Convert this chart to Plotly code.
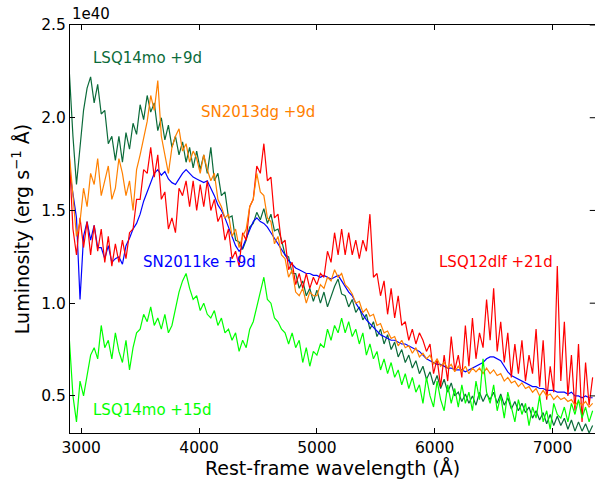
import numpy as np
import plotly.graph_objects as go

# wavelength grid (Angstrom), 30 A step
wavelength = np.arange(2900, 7341, 30)

# Luminosity values in units of 1e40 erg s^-1 A^-1
lsq14mo_9d = [
    2.24, 1.90, 1.64, 1.86, 2.04, 2.16, 2.22, 2.08, 2.18, 2.02,
    2.04, 1.86, 1.90, 1.77, 1.90, 1.76, 1.92, 1.83, 1.97, 1.91,
    2.07, 1.99, 2.12, 2.03, 2.08, 1.93, 2.00, 1.88, 1.96, 1.84,
    1.90, 1.80, 1.87, 1.76, 1.84, 1.73, 1.82, 1.72, 1.80, 1.70,
    1.84, 1.66, 1.70, 1.58, 1.60, 1.46, 1.47, 1.34, 1.33, 1.29,
    1.34, 1.41, 1.43, 1.49, 1.45, 1.51, 1.43, 1.48, 1.39, 1.40,
    1.34, 1.26, 1.25, 1.16, 1.16, 1.08, 1.12, 1.04, 1.08, 1.01,
    1.07, 1.00, 1.06, 0.98, 1.04, 1.09, 1.13, 1.05, 1.04, 0.98,
    1.02, 0.95, 0.98, 0.91, 0.94, 0.86, 0.90, 0.82, 0.86, 0.78,
    0.83, 0.75, 0.79, 0.71, 0.75, 0.68, 0.72, 0.65, 0.69, 0.62,
    0.66, 0.59, 0.63, 0.56, 0.61, 0.54, 0.59, 0.52, 0.57, 0.50,
    0.52, 0.47, 0.51, 0.46, 0.50, 0.45, 0.52, 0.47, 0.51, 0.48,
    0.52, 0.46, 0.51, 0.45, 0.49, 0.43, 0.47, 0.42, 0.46, 0.41,
    0.44, 0.38, 0.42, 0.37, 0.41, 0.35, 0.40, 0.34, 0.39, 0.34,
    0.38, 0.32, 0.37, 0.31, 0.36, 0.31, 0.35, 0.30, 0.34,
]

sn2011ke_9d = [
    1.72, 1.60, 1.46, 1.02, 1.36, 1.44, 1.34, 1.42, 1.30, 1.30,
    1.24, 1.31, 1.22, 1.24, 1.25, 1.21, 1.31, 1.35, 1.40, 1.43,
    1.48, 1.55, 1.60, 1.66, 1.70, 1.72, 1.69, 1.71, 1.67, 1.65,
    1.64, 1.67, 1.70, 1.72, 1.70, 1.68, 1.67, 1.66, 1.65, 1.66,
    1.62, 1.58, 1.53, 1.50, 1.46, 1.41, 1.37, 1.31, 1.28, 1.30,
    1.35, 1.40, 1.44, 1.46, 1.44, 1.43, 1.41, 1.38, 1.35, 1.32,
    1.29, 1.26, 1.23, 1.21, 1.19, 1.18, 1.17, 1.16, 1.16, 1.15,
    1.15, 1.14, 1.15, 1.14, 1.13, 1.14, 1.15, 1.12, 1.09, 1.06,
    1.04, 1.00, 0.97, 0.94, 0.91, 0.89, 0.87, 0.85, 0.83, 0.82,
    0.81, 0.80, 0.80, 0.79, 0.78, 0.78, 0.77, 0.76, 0.75, 0.74,
    0.72, 0.70, 0.69, 0.68, 0.67, 0.67, 0.66, 0.65, 0.65, 0.64,
    0.64, 0.64, 0.63, 0.64, 0.65, 0.66, 0.67, 0.68, 0.70, 0.71,
    0.71, 0.70, 0.69, 0.66, 0.63, 0.61, 0.60, 0.59, 0.58, 0.57,
    0.56, 0.55, 0.55, 0.54, 0.54, 0.53, 0.53, 0.53, 0.52, 0.52,
    0.52, 0.51, 0.52, 0.50, 0.50, 0.49, 0.50, 0.49, 0.49,
]

lsq12dlf_21d = [
    1.78, 1.40, 1.26, 1.46, 1.30, 1.44, 1.26, 1.42, 1.28, 1.40,
    1.22, 1.36, 1.20, 1.32, 1.22, 1.34, 1.24, 1.38, 1.40, 1.56,
    1.56, 1.72, 1.70, 1.84, 1.68, 1.80, 1.56, 1.60, 1.40, 1.46,
    1.38, 1.62, 1.58, 1.66, 1.52, 1.66, 1.50, 1.64, 1.52, 1.66,
    1.50, 1.56, 1.44, 1.48, 1.34, 1.40, 1.24, 1.28, 1.20, 1.38,
    1.34, 1.52, 1.56, 1.74, 1.70, 1.86, 1.66, 1.68, 1.46, 1.48,
    1.32, 1.34, 1.18, 1.22, 1.10, 1.16, 1.08, 1.16, 1.08, 1.14,
    1.10, 1.16, 1.14, 1.28, 1.22, 1.38, 1.26, 1.40, 1.26, 1.38,
    1.26, 1.34, 1.24, 1.34, 1.28, 1.48, 1.14, 1.16, 1.04, 1.12,
    0.94, 1.08, 0.92, 1.04, 0.88, 0.90, 0.80, 0.86, 0.78, 0.84,
    0.80, 0.74, 0.78, 0.62, 0.70, 0.55, 0.72, 0.58, 0.82, 0.64,
    0.72, 0.60, 0.88, 0.66, 0.92, 0.70, 0.84, 0.76, 1.02, 0.80,
    1.08, 0.74, 0.90, 0.68, 0.84, 0.60, 0.78, 0.62, 0.80, 0.58,
    0.72, 0.62, 0.86, 0.55, 0.80, 0.48, 0.66, 0.52, 1.20, 0.58,
    0.90, 0.50, 0.72, 0.42, 0.78, 0.36, 0.68, 0.45, 0.60,
]

sn2013dg_9d = [
    1.80, 1.58, 1.36, 1.44, 1.62, 1.52, 1.70, 1.64, 1.78, 1.58,
    1.66, 1.74, 1.56, 1.62, 1.78, 1.70, 1.58, 1.66, 1.50, 1.72,
    1.80, 1.90, 1.98, 2.12, 2.04, 2.20, 1.90, 1.80, 1.70, 1.84,
    1.90, 1.94, 1.82, 1.86, 1.76, 1.82, 1.78, 1.70, 1.80, 1.72,
    1.66, 1.70, 1.56, 1.52, 1.46, 1.48, 1.36, 1.40, 1.30, 1.36,
    1.40, 1.52, 1.56, 1.70, 1.60, 1.58, 1.46, 1.44, 1.32, 1.36,
    1.26, 1.24, 1.14, 1.18, 1.06, 1.04, 1.08, 1.00, 1.06, 1.04,
    1.04, 1.10, 1.08, 1.14, 1.12, 1.18, 1.14, 1.16, 1.10, 1.08,
    1.05, 1.00, 1.01, 0.95, 0.97, 0.93, 0.94, 0.88, 0.89, 0.84,
    0.85, 0.81, 0.82, 0.77, 0.80, 0.76, 0.77, 0.73, 0.76, 0.71,
    0.73, 0.70, 0.72, 0.67, 0.70, 0.66, 0.68, 0.65, 0.67, 0.63,
    0.66, 0.63, 0.66, 0.62, 0.65, 0.63, 0.65, 0.62, 0.65, 0.62,
    0.64, 0.61, 0.62, 0.58, 0.60, 0.57, 0.58, 0.55, 0.57, 0.54,
    0.55, 0.52, 0.54, 0.50, 0.53, 0.50, 0.51, 0.48, 0.50, 0.48,
    0.49, 0.47, 0.48, 0.45, 0.47, 0.45, 0.47, 0.44, 0.46,
]

lsq14mo_15d = [
    0.80, 0.50, 0.36, 0.58, 0.50, 0.62, 0.72, 0.76, 0.70, 0.88,
    0.76, 0.80, 0.70, 0.84, 0.74, 0.68, 0.80, 0.64, 0.76, 0.84,
    0.86, 0.94, 0.90, 0.98, 0.88, 0.92, 0.86, 0.94, 0.84, 0.88,
    0.98, 1.06, 1.12, 1.16, 1.08, 1.02, 1.04, 0.96, 1.00, 0.94,
    0.92, 0.96, 0.88, 0.92, 0.84, 0.86, 0.80, 0.84, 0.74, 0.80,
    0.76, 0.86, 0.90, 0.98, 1.06, 1.14, 1.02, 1.00, 0.92, 0.90,
    0.86, 0.84, 0.78, 0.84, 0.76, 0.80, 0.68, 0.76, 0.66, 0.74,
    0.72, 0.78, 0.76, 0.86, 0.80, 0.88, 0.84, 0.92, 0.84, 0.90,
    0.82, 0.86, 0.78, 0.84, 0.72, 0.78, 0.70, 0.74, 0.64, 0.70,
    0.62, 0.68, 0.60, 0.64, 0.56, 0.62, 0.54, 0.60, 0.52, 0.56,
    0.46, 0.60, 0.50, 0.44, 0.58, 0.48, 0.42, 0.56, 0.46, 0.54,
    0.44, 0.56, 0.46, 0.52, 0.42, 0.58, 0.48, 0.70, 0.52, 0.46,
    0.56, 0.42, 0.50, 0.38, 0.52, 0.44, 0.36, 0.48, 0.40, 0.46,
    0.34, 0.44, 0.38, 0.50, 0.36, 0.42, 0.32, 0.46, 0.40, 0.38,
    0.44, 0.36, 0.46, 0.40, 0.48, 0.38, 0.44, 0.36, 0.42,
]

x_ticks = [3000, 4000, 5000, 6000, 7000]
y_ticks = [0.5, 1.0, 1.5, 2.0, 2.5]
y_tick_text = ["0.5", "1.0", "1.5", "2.0", "2.5"]

series = [
    ("LSQ14mo +9d", lsq14mo_9d, "#0b6b3a", 3080, 2.32),
    ("SN2011ke +9d", sn2011ke_9d, "#0000ff", 3510, 1.22),
    ("LSQ12dlf +21d", lsq12dlf_21d, "#ff0000", 6020, 1.22),
    ("SN2013dg +9d", sn2013dg_9d, "#ff8000", 4000, 2.03),
    ("LSQ14mo +15d", lsq14mo_15d, "#00ff00", 3085, 0.425),
]

FONT = "DejaVu Sans"
fig = go.Figure()
for name, vals, color, lx, ly in series:
    fig.add_trace(go.Scatter(
        x=wavelength, y=vals, mode="lines", name=name,
        line=dict(color=color, width=1.2), showlegend=False,
    ))
    fig.add_annotation(
        x=lx, y=ly, xref="x", yref="y", text=name, showarrow=False,
        xanchor="left", yanchor="middle",
        font=dict(family=FONT, size=15, color=color),
    )

fig.add_annotation(
    x=0, y=1, xref="paper", yref="paper", text="1e40", showarrow=False,
    xanchor="left", yanchor="bottom", font=dict(family=FONT, size=15, color="black"),
)

# right-side inner tick marks (right spine lies at the figure edge)
for yt in y_ticks:
    fig.add_shape(type="line", xref="paper", yref="y", x0=0.99, x1=1.0,
                  y0=yt, y1=yt, line=dict(color="black", width=1))

fig.update_layout(
    width=595, height=479,
    margin=dict(l=70, r=0, t=25, b=46),
    paper_bgcolor="white", plot_bgcolor="white",
    font=dict(family=FONT, size=15, color="black"),
    xaxis=dict(
        range=[2905, 7360], tickvals=x_ticks, ticks="inside", ticklen=5,
        tickcolor="black", showline=True, linecolor="black", linewidth=1,
        mirror="ticks", showgrid=False, zeroline=False, automargin=False,
        tickfont=dict(family=FONT, size=15.5, color="black"),
        title=dict(text="Rest-frame wavelength (Å)", font=dict(family=FONT, size=19), standoff=10),
    ),
    yaxis=dict(
        range=[0.3, 2.5], tickvals=y_ticks, ticktext=y_tick_text, ticks="inside", ticklen=5,
        tickcolor="black", showline=True, linecolor="black", linewidth=1,
        showgrid=False, zeroline=False, automargin=False,
        tickfont=dict(family=FONT, size=15.5, color="black"),
        title=dict(text="Luminosity (erg s<sup>−1</sup> Å)", font=dict(family=FONT, size=19), standoff=6),
    ),
)

fig.write_html("out.html", config={"displayModeBar": False},
               post_script="document.body.style.margin='0';")
